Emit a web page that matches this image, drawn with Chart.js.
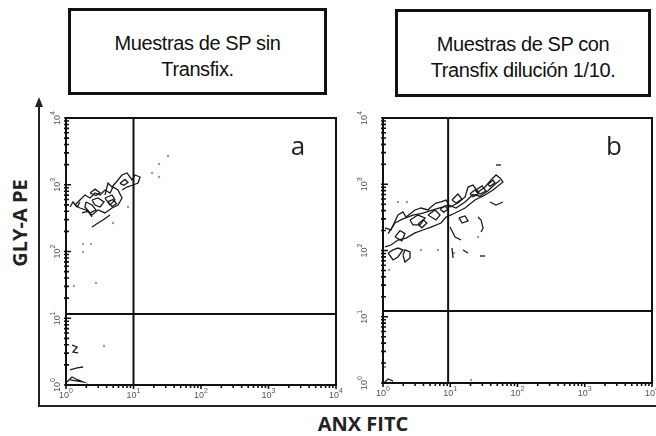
<!DOCTYPE html>
<html lang="es">
<head>
<meta charset="utf-8">
<title>GLY-A PE / ANX FITC</title>
<script src="https://cdn.jsdelivr.net/npm/chart.js@4.4.1/dist/chart.umd.min.js"></script>
<style>
  html, body { margin: 0; padding: 0; background: #fff; }
  #lienzo { position: relative; width: 656px; height: 436px; overflow: hidden; font-family: "Liberation Sans", Arial, sans-serif; }
  #lienzo canvas { position: absolute; left: 0; top: 0; }
  .caja { position: absolute; box-sizing: border-box; border: 3px solid #111; text-align: center;
          font-size: 20px; line-height: 26px; padding-top: 19px; color: #111; letter-spacing: -0.4px; }
  .titulo-eje { position: absolute; width: 120px; height: 24px; line-height: 24px; text-align: center;
                font-family: "Open Sans", sans-serif; font-weight: 700; font-size: 20px; color: #222; white-space: nowrap; }
  .eje-v { position: absolute; left: 38px; top: 104px; width: 2px; height: 303px; background: #222; }
  .eje-h { position: absolute; left: 38px; top: 405px; width: 618px; height: 2px; background: #222; }
  .flecha { position: absolute; left: 35px; top: 97px; width: 0; height: 0;
            border-left: 4px solid transparent; border-right: 4px solid transparent; border-bottom: 10px solid #222; }
</style>
</head>
<body>
<div id="lienzo">
  <div class="caja" style="left:68px; top:8px; width:259px; height:87px;">Muestras de SP sin<br>Transfix.</div>
  <div class="caja" style="left:395px; top:9px; width:256px; height:88px;">Muestras de SP con<br>Transfix dilución 1/10.</div>
  <div class="eje-v"></div>
  <div class="flecha"></div>
  <div class="eje-h"></div>
  <div class="titulo-eje" style="left:-40px; top:211px; transform:rotate(-90deg);">GLY-A PE</div>
  <div class="titulo-eje" style="left:303px; top:412px;">ANX FITC</div>
  <canvas id="panelA" width="656" height="436"></canvas>
  <canvas id="panelB" width="656" height="436"></canvas>
</div>
<script>
// décadas de los ejes logarítmicos (10^0 ... 10^4)
const decadas = [0, 1, 2, 3, 4];

// límites de cuadrante [ANX, GLY-A]
const cuadranteA = [10, 11.6];
const cuadranteB = [9.3, 12.2];

// contornos de densidad, muestra sin Transfix: [ANX FITC, GLY-A PE]
const contornosA = [
    [[1.36, 497], [1.61, 591], [1.91, 702], [2.27, 633], [2.69, 752], [3.19, 702], [3.78, 834], [4.49, 752], [4.97, 925],
     [5.89, 834], [6.76, 633], [5.89, 497], [4.80, 448], [3.78, 378], [2.98, 419], [2.43, 352], [1.98, 419], [1.61, 448], [1.36, 497]],
    [[2.43, 591], [2.98, 633], [3.66, 552], [3.19, 464], [2.69, 497], [2.43, 591]],
    [[3.78, 633], [4.80, 702], [5.32, 591], [4.49, 497], [3.78, 633]],
    [[1.98, 552], [2.43, 497], [2.78, 419], [2.27, 378], [1.91, 464], [1.98, 552]],
    [[2.27, 752], [2.69, 860], [3.19, 760], [2.78, 690], [2.27, 752]],
    [[4.19, 560], [4.97, 600], [5.60, 520], [4.80, 470], [4.19, 560]],
    [[3.78, 702], [4.19, 1062], [4.80, 925], [5.89, 1178], [6.76, 1400], [8.01, 1500], [9.50, 1178], [10.5, 1400],
     [12.5, 1306], [11.7, 1062], [9.84, 991], [8.01, 925], [6.76, 834]],
    [[6.31, 1050], [7.48, 1200], [8.29, 1080], [7.20, 980], [6.31, 1050]],
    [[1.15, 464], [1.27, 552], [1.46, 464], [1.61, 552]],
    [[1.73, 380], [2.12, 400], [2.43, 330]],
    [[2.43, 233], [2.98, 267], [3.53, 296], [4.49, 352]],
    [[1.23, 3.97], [1.46, 3.71], [1.27, 3.12], [1.51, 3.02]],
    [[1.15, 1.68], [1.46, 1.80], [1.79, 1.86]],
    [[1.03, 1.11], [1.23, 1.32], [1.51, 1.19], [1.79, 1.11], [1.15, 1.19]]
];
const puntosA = [
    [1.31, 30.4], [2.78, 33.7], [1.79, 129], [2.35, 129], [1.79, 98], [4.97, 267], [18.8, 1500],
    [23.9, 2046], [23.9, 1306], [32.4, 2698], [3.66, 3.84], [8.29, 464]
];

// contornos de densidad, muestra con Transfix 1/10
const contornosB = [
    [[1.07, 219], [1.31, 204], [1.67, 343], [1.98, 381], [2.20, 320], [2.99, 409], [3.67, 438], [4.67, 409], [5.17, 454],
     [6.14, 521], [7.28, 540], [8.65, 578], [9.91, 454], [13.0, 521], [16.6, 642], [18.4, 908], [21.8, 974], [25.9, 764],
     [32.9, 908], [40.4, 1159], [47.9, 1380], [54.9, 1242], [60.8, 1082], [43.2, 819], [32.9, 688], [23.3, 578], [16.6, 438],
     [11.8, 368], [8.65, 320], [7.28, 260], [5.17, 226], [3.93, 204], [2.99, 184], [2.20, 154], [1.67, 144], [1.31, 121], [1.07, 113]],
    [[1.19, 180], [1.51, 260], [1.98, 300], [2.79, 343], [3.93, 368], [5.54, 409], [7.80, 454], [9.26, 486], [12.2, 438],
     [16.6, 540], [21.8, 700], [27.7, 660], [36.4, 800], [46.3, 1000], [55.0, 1150]],
    [[1.51, 160], [1.79, 200], [2.12, 180], [1.91, 140], [1.51, 160]],
    [[3.31, 250], [3.93, 290], [4.49, 260], [3.78, 220], [3.31, 250]],
    [[7.04, 420], [8.36, 470], [9.26, 420], [8.00, 380], [7.04, 420]],
    [[19.7, 720], [23.3, 820], [25.9, 720], [21.8, 650], [19.7, 720]],
    [[36.4, 1000], [43.2, 1150], [46.3, 1050], [39.0, 930], [36.4, 1000]],
    [[1.19, 91.7], [1.41, 71.9], [1.67, 79.8], [1.98, 102], [1.67, 109], [1.41, 102], [1.19, 91.7]],
    [[1.98, 85.5], [2.12, 67.0], [2.52, 77.1], [2.52, 94.9], [2.12, 102], [1.98, 85.5]],
    [[2.52, 289], [3.31, 343], [4.21, 310], [3.55, 243], [2.79, 243], [2.52, 289]],
    [[4.67, 343], [5.93, 409], [7.04, 343], [6.14, 289], [4.67, 343]],
    [[13.5, 310], [16.6, 332], [18.4, 279], [15.0, 260], [13.5, 310]],
    [[10.6, 578], [13.0, 713], [15.0, 599], [12.2, 521], [10.6, 578]],
    [[24.1, 819], [29.7, 942], [34.0, 791], [27.7, 713], [24.1, 819]],
    [[25.9, 320], [28.7, 289], [30.7, 219], [28.7, 190]],
    [[39.0, 540], [47.9, 486], [60.8, 540]],
    [[47.9, 1953], [56.8, 1953]],
    [[9.91, 226], [11.8, 160], [14.5, 144]],
    [[15.5, 102], [18.4, 91.7]],
    [[27.7, 82.6], [32.9, 82.6]],
    [[10.6, 109], [11.0, 77.1]],
    [[1.03, 1.0], [1.19, 1.15], [1.41, 1.07]]
];
const puntosB = [
    [1.67, 540], [2.27, 540], [1.23, 50.8], [1.07, 1.74], [3.67, 102], [6.57, 102], [11.4, 91.7], [25.9, 160], [20.4, 1.11]
];

// marcas menores del eje log: 1..9 por década
const marcas = [];
for (let i = 0; i < decadas.length - 1; i++) {
    for (let k = 1; k <= 9; k++) {
        marcas.push(k * Math.pow(10, decadas[i]));
    }
}
marcas.push(Math.pow(10, decadas[decadas.length - 1]));

function dibujarPotencia(ctx, exp) {
    ctx.font = '9px "Liberation Sans", Arial, sans-serif';
    const w1 = ctx.measureText('10').width;
    ctx.font = '7px "Liberation Sans", Arial, sans-serif';
    const w2 = ctx.measureText(String(exp)).width;
    const x0 = -(w1 + w2) / 2;
    ctx.font = '9px "Liberation Sans", Arial, sans-serif';
    ctx.fillText('10', x0, 3);
    ctx.font = '7px "Liberation Sans", Arial, sans-serif';
    ctx.fillText(String(exp), x0 + w1, -2);
}

const marcoPanel = {
    id: 'marcoPanel',
    afterDatasetsDraw(chart, args, opts) {
        const ctx = chart.ctx;
        const a = chart.chartArea;
        const x = chart.scales.x;
        const y = chart.scales.y;
        ctx.save();

        // cuadrantes
        ctx.strokeStyle = '#111';
        ctx.lineWidth = 2;
        const qx = x.getPixelForValue(opts.cuadrante[0]);
        const qy = y.getPixelForValue(opts.cuadrante[1]);
        ctx.beginPath();
        ctx.moveTo(qx, a.top);
        ctx.lineTo(qx, a.bottom);
        ctx.moveTo(a.left, qy);
        ctx.lineTo(a.right, qy);
        ctx.stroke();
        ctx.strokeRect(a.left, a.top, a.right - a.left, a.bottom - a.top);

        // marcas de los ejes
        ctx.lineWidth = 1.6;
        ctx.beginPath();
        marcas.forEach(function (v) {
            const mayor = decadas.some(d => Math.pow(10, d) === v);
            const py = y.getPixelForValue(v);
            ctx.moveTo(a.left - 2, py);
            ctx.lineTo(a.left + (mayor ? 5 : 3), py);
            const px = x.getPixelForValue(v);
            ctx.moveTo(px, a.bottom);
            ctx.lineTo(px, a.bottom + (mayor ? 4 : 3));
        });
        ctx.stroke();

        // etiquetas 10^n
        ctx.fillStyle = '#555';
        ctx.textBaseline = 'alphabetic';
        ctx.textAlign = 'left';
        decadas.forEach(function (d) {
            const v = Math.pow(10, d);
            ctx.save();
            ctx.translate(x.getPixelForValue(v), a.bottom + 10);
            dibujarPotencia(ctx, d);
            ctx.restore();

            ctx.save();
            ctx.translate(a.left - opts.sepEtiquetaY, y.getPixelForValue(v));
            ctx.rotate(-Math.PI / 2);
            dibujarPotencia(ctx, d);
            ctx.restore();
        });

        // letra del panel
        ctx.fillStyle = '#222';
        ctx.textAlign = 'center';
        ctx.font = '26px "Open Sans", sans-serif';
        ctx.fillText(opts.letra, a.right - 38, a.top + 37);
        ctx.restore();
    }
};

function crearPanel(idCanvas, contornos, puntos, cuadrante, letra, relleno, sepEtiquetaY) {
    const datasets = contornos.map(function (c) {
        return {
            data: c.map(p => ({ x: p[0], y: p[1] })),
            showLine: true,
            borderColor: '#1a1a1a',
            borderWidth: 1.3,
            pointRadius: 0,
            tension: 0,
            fill: false
        };
    });
    datasets.push({
        data: puntos.map(p => ({ x: p[0], y: p[1] })),
        showLine: false,
        pointRadius: 1.2,
        pointBorderWidth: 0,
        pointBackgroundColor: '#999'
    });

    new Chart(document.getElementById(idCanvas), {
        type: 'scatter',
        data: { datasets: datasets },
        options: {
            responsive: false,
            animation: false,
            devicePixelRatio: 1,
            layout: { padding: relleno },
            scales: {
                x: { type: 'logarithmic', min: 1, max: 10000, display: false },
                y: { type: 'logarithmic', min: 1, max: 10000, display: false }
            },
            plugins: {
                legend: { display: false },
                tooltip: { enabled: false },
                marcoPanel: { cuadrante: cuadrante, letra: letra, sepEtiquetaY: sepEtiquetaY }
            }
        },
        plugins: [marcoPanel]
    });
}

crearPanel('panelA', contornosA, puntosA, cuadranteA, 'a', { left: 66, top: 118, right: 320, bottom: 51 }, 9);
crearPanel('panelB', contornosB, puntosB, cuadranteB, 'b', { left: 383, top: 118, right: 4, bottom: 53 }, 19);
</script>
</body>
</html>
